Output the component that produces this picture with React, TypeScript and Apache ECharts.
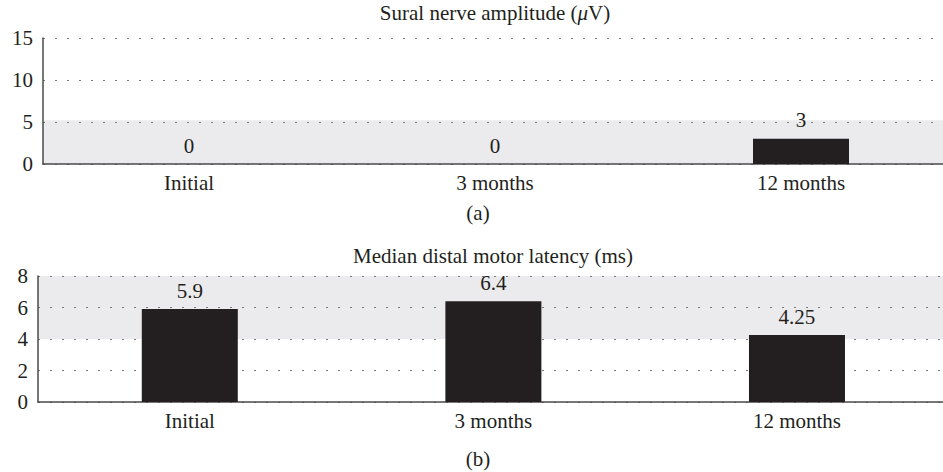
import React, { useEffect, useRef } from "react";
import * as echarts from "echarts";

const categories = ["Initial", "3 months", "12 months"];
const suralValues = [0, 0, 3];
const latencyValues = [5.9, 6.4, 4.25];
const suralBand = [0, 5.2];
const latencyBand = [4, 8];
const suralTicks = [0, 5, 10, 15];
const latencyTicks = [0, 2, 4, 6, 8];

const FONT = "Liberation Serif, Times New Roman, serif";
const TXT = "#231f20";
const BAR = "#231f20";
const BAND = "#ebebed";

export default function App() {
  const ref = useRef<HTMLDivElement>(null);
  useEffect(() => {
    if (!ref.current) return;
    const chart = echarts.init(ref.current, undefined, { renderer: "svg" });

    const xAxisBase = (gridIndex: number, min: number, max: number) => ({
      type: "value" as const,
      gridIndex,
      min,
      max,
      axisLine: { show: true, onZero: false, lineStyle: { color: "#4a4a4a", width: 1.5 } },
      axisTick: { show: false },
      splitLine: { show: false },
      axisLabel: {
        customValues: [0, 1, 2],
        formatter: (v: number) => categories[Math.round(v)] ?? "",
        color: TXT,
        fontFamily: FONT,
        fontSize: 21,
        margin: 8,
      },
    });

    const yAxisBase = (gridIndex: number, ticks: number[]) => ({
      type: "value" as const,
      gridIndex,
      min: ticks[0],
      max: ticks[ticks.length - 1],
      interval: ticks[1] - ticks[0],
      axisLine: { show: true, onZero: false, lineStyle: { color: "#4a4a4a", width: 1.5 } },
      axisTick: { show: false },
      axisLabel: { color: TXT, fontFamily: FONT, fontSize: 21, margin: 10 },
      splitLine: {
        show: true,
        lineStyle: { color: "#7a7a7a", width: 1, type: [2, 10] as any },
      },
    });

    const barSeries = (idx: number, values: number[], band: number[]) => ({
      type: "bar" as const,
      xAxisIndex: idx,
      yAxisIndex: idx,
      data: values.map((v, i) => [i, v]),
      barWidth: 96,
      itemStyle: { color: BAR },
      label: {
        show: true,
        position: "top" as const,
        distance: 8,
        color: TXT,
        fontFamily: FONT,
        fontSize: 21,
        formatter: (p: any) => String(p.value[1]),
      },
      markArea: {
        silent: true,
        itemStyle: { color: BAND },
        z: -1,
        data: [[{ yAxis: band[0] }, { yAxis: band[1] }]],
      },
      z: 3,
    });

    chart.setOption({
      animation: false,
      textStyle: { fontFamily: FONT },
      grid: [
        { left: 43, right: 0, top: 38, height: 126 },
        { left: 38, right: 0, top: 276, height: 126 },
      ],
      xAxis: [xAxisBase(0, -0.477, 2.464), xAxisBase(1, -0.5, 2.481)],
      yAxis: [yAxisBase(0, suralTicks), yAxisBase(1, latencyTicks)],
      series: [
        barSeries(0, suralValues, suralBand),
        barSeries(1, latencyValues, latencyBand),
      ],
      graphic: [
        {
          type: "text",
          x: 495,
          y: 13,
          style: {
            text: "Sural nerve amplitude ({i|μ}V)",
            align: "center",
            verticalAlign: "middle",
            fontFamily: FONT,
            fontSize: 21,
            fill: TXT,
            rich: { i: { fontStyle: "italic", fontFamily: FONT, fontSize: 21, fill: TXT } },
          },
        },
        {
          type: "text",
          x: 478,
          y: 213,
          style: { text: "(a)", align: "center", verticalAlign: "middle", fontFamily: FONT, fontSize: 21, fill: TXT },
        },
        {
          type: "text",
          x: 493,
          y: 256,
          style: {
            text: "Median distal motor latency (ms)",
            align: "center",
            verticalAlign: "middle",
            fontFamily: FONT,
            fontSize: 21,
            fill: TXT,
          },
        },
        {
          type: "text",
          x: 478,
          y: 459,
          style: { text: "(b)", align: "center", verticalAlign: "middle", fontFamily: FONT, fontSize: 21, fill: TXT },
        },
      ],
    });
    return () => chart.dispose();
  }, []);
  return <div ref={ref} style={{ width: 943, height: 472, position: "absolute", left: 0, top: 0 }} />;
}
